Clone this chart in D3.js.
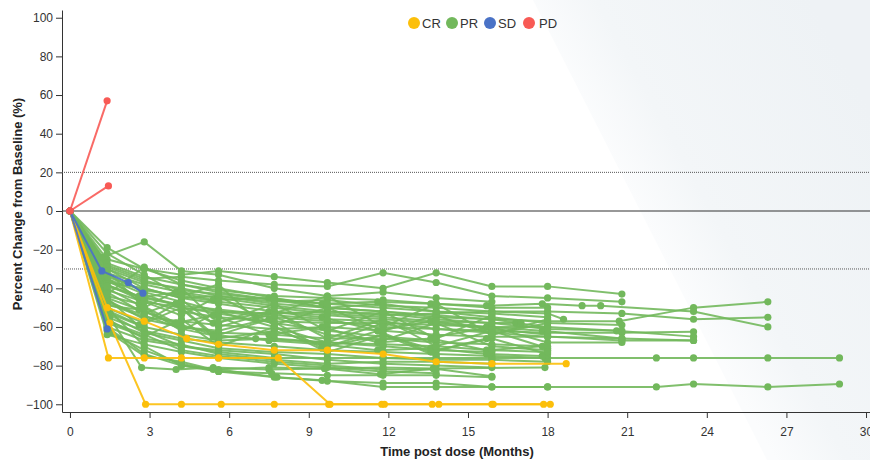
<!DOCTYPE html>
<html>
<head>
<meta charset="utf-8">
<script src="https://cdn.jsdelivr.net/npm/d3@7"></script>
<style>
  body { margin: 0; background: #fff; }
  text { font-family: "Liberation Sans", Arial, sans-serif; }
</style>
</head>
<body>
<div id="chart-area"></div>
<script>

// response categories + colours
var categories = ["CR", "PR", "SD", "PD"];
var catColors = ["#fcbf0a", "#72b85c", "#4a72c6", "#f85a55"];

var xTicks = [0, 3, 6, 9, 12, 15, 18, 21, 24, 27, 30];
var yTicks = [-100, -80, -60, -40, -20, 0, 20, 40, 60, 80, 100];
var refLines = [20, -30];

// each patient: [month, % change]
var crSeries = [
    [[0,0],[1.4,-50],[2.8,-57],[4.4,-66],[5.6,-69],[7.7,-72],[9.7,-72],[11.8,-74],[13.8,-78],[15.9,-79],[18.7,-79]],
    [[0,0],[1.5,-58],[2.85,-100],[4.2,-100],[5.7,-100],[7.7,-100],[9.75,-100],[11.75,-100],[13.65,-100],[15.9,-100],[17.85,-100]],
    [[0,0],[1.45,-76],[2.8,-76],[4.2,-76],[5.6,-76],[7.85,-76],[9.8,-100],[11.85,-100],[13.9,-100],[15.95,-100],[18.1,-100]]
];

var sdSeries = [
    [[0,0],[1.2,-31],[2.2,-37],[2.75,-42.5]],
    [[0,0],[1.4,-61]]
];

var pdSeries = [
    [[0,0],[1.4,57]],
    [[0,0],[1.45,13]]
];

var prSeries = [
    [[0,0],[1.4,-45],[2.8,-62],[4.2,-70],[5.6,-73],[7.7,-76],[9.7,-76],[11.8,-76],[13.8,-76],[15.9,-76],[18,-76],[22.1,-76],[23.5,-76],[26.3,-76],[29,-76]],
    [[0,0],[1.4,-50],[2.8,-70],[4.2,-80],[5.6,-83],[7.7,-86],[9.7,-88],[11.8,-89],[13.8,-89],[15.9,-91],[18,-91],[22.1,-91],[23.5,-89.5],[26.3,-91],[29,-89.5]],
    [[0,0],[1.4,-30],[2.8,-40],[4.2,-45],[5.6,-44],[7.7,-48],[9.7,-50],[11.8,-52],[13.8,-55],[15.9,-56],[18,-57],[20.7,-57],[23.5,-50],[26.3,-47]],
    [[0,0],[1.4,-35],[2.6,-45],[4.0,-42],[5.4,-46],[7.5,-45],[9.5,-48],[11.6,-47],[13.6,-48],[15.7,-49],[17.8,-48],[19.3,-49],[20.0,-49],[23.5,-52],[26.3,-60]],
    [[0,0],[1.4,-38],[2.8,-47],[4.2,-50],[5.6,-52],[7.7,-53],[9.7,-52],[11.8,-54],[13.8,-53],[15.9,-52],[18,-52],[20.8,-53],[23.5,-56],[26.3,-55]],
    [[0,0],[1.4,-25],[2.8,-30],[4.2,-33],[5.6,-31],[7.7,-34],[9.7,-37],[11.8,-40],[13.8,-32],[15.9,-39],[18,-39],[20.8,-43]],
    [[0,0],[1.4,-28],[2.8,-35],[4.2,-34],[5.6,-36],[7.7,-38],[9.7,-39],[11.8,-32],[13.8,-37],[15.9,-44],[18,-45],[20.8,-47]],
    [[0,0],[1.2,-24],[2.8,-16],[4.2,-31],[5.6,-33],[7.7,-40],[9.7,-44],[11.8,-42],[13.8,-45],[15.9,-47]],
    [[0,0],[1.4,-19],[2.8,-30],[4.2,-36],[5.6,-40],[7.7,-45],[9.7,-50],[11.8,-48],[13.8,-52],[15.9,-55],[18,-58],[20.8,-59]],
    [[0,0],[1.5,-55],[2.7,-81],[4.0,-82],[5.4,-81],[7.5,-82],[9.6,-81.5],[11.7,-84.5],[13.7,-81.5],[15.9,-85.5]],
    [[0,0],[1.4,-60],[2.8,-74],[4.2,-80],[5.6,-82],[7.8,-86],[9.5,-87.6],[11.8,-91],[13.8,-91],[15.9,-91],[18,-91]],
    [[0,0],[1.5,-63],[2.8,-75],[4.2,-78],[5.4,-82],[7.5,-81],[9.6,-81.5],[11.8,-81],[13.7,-81.5],[17.9,-81]],
    [[0,0],[1.4,-62],[2.8,-72],[4.2,-79],[5.6,-83],[7.6,-84],[9.7,-85],[11.8,-85],[13.8,-85],[15.9,-86]],
    [[0,0],[1.4,-40],[2.8,-50],[4.2,-62],[5.6,-52],[7.7,-60],[9.7,-68],[11.8,-58],[13.8,-65],[15.9,-60],[18,-68],[20.8,-68]],
    [[0,0],[1.4,-45],[2.8,-52],[4.2,-60],[5.6,-62],[7.7,-55],[9.7,-64],[11.8,-67],[13.8,-58],[15.9,-70],[18,-72]],
    [[0,0],[1.3,-38],[2.6,-44],[4.0,-48],[5.4,-58],[7.5,-52],[9.5,-55],[11.6,-62],[13.6,-57],[15.7,-60],[17.8,-62],[20.8,-66]],
    [[0,0],[1.4,-50],[2.8,-58],[4.2,-50],[5.6,-66],[7.7,-62],[9.7,-70],[11.8,-64],[13.8,-72],[15.9,-66],[18,-74]],
    [[0,0],[1.4,-33],[2.8,-42],[4.2,-47],[5.6,-52],[7.7,-55],[9.7,-57],[11.8,-60],[13.8,-61],[15.9,-62],[18,-63],[20.8,-63],[23.5,-62.5]],
    [[0,0],[1.4,-48],[2.8,-55],[4.2,-57],[5.6,-59],[7.7,-61],[9.7,-60],[11.8,-62],[13.8,-64],[15.9,-65],[18,-65],[20.8,-66],[23.5,-67]],
    [[0,0],[1.4,-36],[2.8,-46],[4.2,-52],[5.6,-55],[7.7,-57],[9.7,-58],[11.8,-58],[13.8,-59],[15.9,-60],[18,-60],[20.6,-62],[23.5,-65]],
    [[0,0],[1.4,-42],[2.8,-53],[4.2,-46],[5.6,-60],[7.7,-52],[9.7,-66],[11.8,-56],[13.8,-70],[15.9,-62],[18,-71]],
    [[0,0],[1.4,-55],[2.8,-62],[4.2,-66],[5.6,-68],[7.7,-70],[9.7,-72],[11.8,-73],[13.8,-74],[15.9,-75],[17.9,-76]],
    [[0,0],[1.4,-30],[2.8,-37],[4.2,-40],[5.6,-44],[7.7,-47],[9.7,-46],[11.8,-49],[13.8,-50],[15.9,-52],[18,-53],[18.6,-56]],
    [[0,0],[1.4,-44],[2.6,-48],[4.0,-58],[5.4,-54],[7.5,-64],[9.5,-60],[11.6,-68],[13.6,-66],[15.7,-72],[17.8,-70]],
    [[0,0],[1.5,-52],[2.8,-60],[4.2,-64],[5.6,-67],[7.7,-66],[9.7,-68],[11.8,-70],[13.8,-72],[15.9,-73]],
    [[0,0],[1.4,-37],[2.8,-40],[4.2,-45],[5.6,-48],[7.7,-52],[9.7,-54],[11.8,-56],[13.8,-58],[15.9,-61],[18,-64]],
    [[0,0],[1.4,-58],[2.8,-65],[4.2,-56],[5.6,-70],[7.7,-60],[9.7,-73],[11.8,-64],[13.8,-75]],
    [[0,0],[1.4,-46],[2.8,-56],[4.2,-60],[5.6,-63],[7.7,-64],[9.7,-66],[11.8,-66],[13.8,-68],[15.9,-69],[18,-70]],
    [[0,0],[1.4,-32],[2.8,-38],[4.2,-42],[5.6,-45],[7.7,-49],[9.7,-52],[11.8,-53],[13.8,-56],[15.9,-58],[16.8,-58],[18,-60]],
    [[0,0],[1.4,-41],[2.8,-47],[4.2,-54],[5.6,-44],[7.7,-59],[9.7,-50],[11.8,-62],[13.8,-54],[15.9,-64],[18,-58]],
    [[0,0],[1.4,-53],[2.8,-63],[4.2,-67],[5.6,-71],[7.7,-73],[9.7,-74],[11.8,-76],[13.8,-77],[15.9,-77],[18,-78]],
    [[0,0],[1.4,-27],[2.8,-34],[4.2,-38],[5.6,-41],[7.7,-44],[9.7,-45],[11.8,-46],[13.8,-48],[15.9,-50],[18,-50]],
    [[0,0],[1.4,-49],[2.6,-51],[4.0,-58],[5.4,-64],[7.5,-67],[9.5,-69],[11.6,-72],[13.6,-71],[15.7,-74],[17.8,-75]],
    [[0,0],[1.4,-35],[2.8,-43],[4.2,-50],[5.6,-53],[7.7,-58],[9.7,-62],[11.8,-65],[13.8,-67]],
    [[0,0],[1.4,-60],[2.8,-67],[4.2,-70],[5.6,-72],[7.7,-74],[9.7,-77],[11.8,-79],[13.8,-80],[15.9,-81]],
    [[0,0],[1.4,-39],[2.8,-45],[4.2,-49],[5.6,-51],[7.7,-54],[9.7,-56],[11.8,-57],[13.8,-61],[15.9,-63],[18,-65],[20.8,-67],[23.5,-67]],
    [[0,0],[1.4,-57],[2.8,-64],[4.2,-72],[5.6,-75],[7.7,-78],[9.7,-80],[11.8,-82],[13.8,-82]],
    [[0,0],[1.4,-43],[2.8,-29],[4.2,-38],[5.6,-42],[7.7,-46],[9.7,-50],[11.8,-52],[13.8,-54],[15.9,-56],[17,-58]],
    [[0,0],[1.4,-47],[2.8,-54],[4.2,-61],[5.6,-65],[7.0,-66],[9.7,-68],[11.8,-69],[13.8,-70],[15.9,-72],[18,-73]],
    [[0,0],[1.4,-34],[2.8,-41],[4.2,-44],[5.6,-47],[7.7,-50],[9.7,-53],[11.8,-55],[13.8,-57],[15.9,-58],[18,-61],[20.8,-62]],
    [[0,0],[1.3,-52],[2.6,-59],[4.0,-48],[5.4,-65],[7.5,-56],[9.5,-71],[11.6,-62],[13.6,-73],[15.7,-66]],
    [[0,0],[1.4,-29],[2.8,-36],[4.2,-41],[5.6,-43],[7.7,-46],[9.7,-48],[11.8,-50],[13.8,-52],[15.9,-53],[18,-55]],
    [[0,0],[1.4,-56],[2.8,-66],[4.2,-69],[5.6,-74],[7.7,-77],[9.7,-79],[11.8,-78],[13.8,-78],[15.9,-79]],
    [[0,0],[1.4,-64],[2.8,-69],[4.2,-73],[5.6,-76],[7.7,-79],[9.7,-81],[11.8,-83],[13.8,-84]],
    [[0,0],[1.4,-22],[2.8,-33],[4.2,-44],[5.6,-38],[7.0,-56],[9.7,-44],[11.8,-60],[13.8,-48],[15.9,-64],[18,-56]],
    [[0,0],[1.4,-31],[2.8,-50],[4.2,-40],[5.6,-58],[7.7,-48],[9.7,-62],[11.8,-52],[13.8,-66],[15.9,-54]]
];

var margin = { left: 62, right: 0, top: 10, bottom: 48 };
var width = 870 - margin.left - margin.right,
    height = 460 - margin.top - margin.bottom;

var svg = d3.select("#chart-area")
    .append("svg")
        .attr("width", 870)
        .attr("height", 460);

// faint diagonal panel on the right, soft left edge
var defs = svg.append("defs");
var grad = defs.append("linearGradient")
    .attr("id", "panel")
    .attr("gradientUnits", "userSpaceOnUse")
    .attr("x1", 650).attr("y1", 230)
    .attr("x2", 870).attr("y2", 110);
grad.append("stop").attr("offset", "0%").attr("stop-color", "#fbfcfd");
grad.append("stop").attr("offset", "25%").attr("stop-color", "#f3f6f8");
grad.append("stop").attr("offset", "100%").attr("stop-color", "#eef2f5");
svg.append("path")
    .attr("d", "M533,0 L870,0 L870,460 L767,460 Z")
    .attr("fill", "url(#panel)");

var g = svg.append("g")
    .attr("transform", "translate(" + margin.left + ", " + margin.top + ")");

// scales
var x = d3.scaleLinear()
    .domain([-0.3, 30.15])
    .range([0, width]);

var y = d3.scaleLinear()
    .domain([-104, 104])
    .range([height, 0]);

var color = d3.scaleOrdinal()
    .domain(categories)
    .range(catColors);

// axes
g.append("g")
    .attr("class", "x axis")
    .attr("transform", "translate(0," + height + ")")
    .call(d3.axisBottom(x).tickValues(xTicks).tickSizeOuter(0).tickPadding(9));

g.append("g")
    .attr("class", "y axis")
    .call(d3.axisLeft(y).tickValues(yTicks).tickSizeOuter(0));

g.selectAll(".axis path, .axis line").attr("stroke", "#333");
g.selectAll(".axis text").attr("fill", "#333").attr("font-size", "12px");

// reference lines
g.append("line")
    .attr("x1", 0).attr("x2", width)
    .attr("y1", y(0)).attr("y2", y(0))
    .attr("stroke", "#333").attr("stroke-width", 1.2);

g.selectAll(".ref")
    .data(refLines)
    .enter().append("line")
        .attr("class", "ref")
        .attr("x1", 0).attr("x2", width)
        .attr("y1", function(d){ return y(d); })
        .attr("y2", function(d){ return y(d); })
        .attr("stroke", "#555")
        .attr("stroke-width", 1)
        .attr("stroke-dasharray", "1,1");

var line = d3.line()
    .x(function(d){ return x(d[0]); })
    .y(function(d){ return y(d[1]); });

function drawGroup(series, cat) {
    var grp = g.append("g").attr("class", "grp-" + cat);
    var c = color(cat);
    grp.selectAll("path")
        .data(series)
        .enter().append("path")
            .attr("d", line)
            .attr("fill", "none")
            .attr("stroke", c)
            .attr("stroke-opacity", 0.9)
            .attr("stroke-width", 2);
    grp.selectAll("circle")
        .data(series.flat())
        .enter().append("circle")
            .attr("cx", function(d){ return x(d[0]); })
            .attr("cy", function(d){ return y(d[1]); })
            .attr("r", 3.6)
            .attr("fill", c);
}

drawGroup(prSeries, "PR");
drawGroup(crSeries, "CR");
drawGroup(sdSeries, "SD");
drawGroup(pdSeries, "PD");

// X Label
svg.append("text")
    .attr("x", 457)
    .attr("y", 456)
    .attr("font-size", "13px")
    .attr("font-weight", "bold")
    .attr("fill", "#222")
    .attr("text-anchor", "middle")
    .text("Time post dose (Months)");

// Y Label
svg.append("text")
    .attr("transform", "translate(22,204) rotate(-90)")
    .attr("font-size", "13px")
    .attr("font-weight", "bold")
    .attr("fill", "#222")
    .attr("text-anchor", "middle")
    .text("Percent Change from Baseline (%)");

// legend
var legendX = [414, 452, 490, 529];
var legend = svg.selectAll(".legend")
    .data(categories)
    .enter().append("g")
        .attr("class", "legend")
        .attr("transform", function(d, i){ return "translate(" + legendX[i] + ",23)"; });
legend.append("circle")
    .attr("r", 6)
    .attr("fill", function(d){ return color(d); });
legend.append("text")
    .attr("x", function(d, i){ return i == 3 ? 10 : 8; })
    .attr("y", 4.5)
    .attr("font-size", "13px")
    .attr("fill", "#333")
    .text(function(d){ return d; });

</script>
</body>
</html>
